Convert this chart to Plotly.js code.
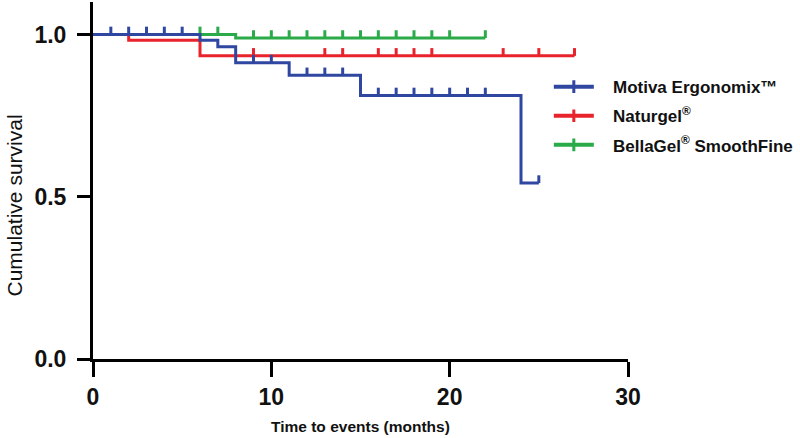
<!DOCTYPE html>
<html>
<head>
<meta charset="utf-8">
<script src="https://cdn.plot.ly/plotly-3.0.1.min.js"></script>
<style>
  html, body { margin: 0; padding: 0; background: #fff; }
  #chart { width: 800px; height: 438px; }
</style>
</head>
<body>
<div id="chart"></div>
<script>
// Kaplan-Meier steps (time in months, cumulative survival)
const motivaTime = [0, 6, 7, 8, 11, 15, 24, 25];
const motivaSurv = [1, 0.982, 0.962, 0.913, 0.874, 0.812, 0.542, 0.542];
const motivaCensor = [1, 2, 3, 4, 5, 9, 10, 12, 13, 14, 16, 17, 18, 19, 20, 21, 22, 25];

const naturgelTime = [0, 2, 6, 27];
const naturgelSurv = [1, 0.982, 0.934, 0.934];
const naturgelCensor = [9, 13, 14, 16, 17, 18, 19, 23, 25, 27];

const bellaTime = [0, 8, 22];
const bellaSurv = [1, 0.989, 0.989];
const bellaCensor = [6, 7, 9, 10, 11, 12, 13, 14, 15, 16, 17, 18, 19, 20, 22];

const seriesNames = ["Motiva Ergonomix™", "Naturgel<sup>®</sup>", "BellaGel<sup>®</sup> SmoothFine"];
const seriesColors = ["#2f47a1", "#e8232b", "#2aaa48"];

const xTicks = [0, 10, 20, 30];
const yTicks = [0, 0.5, 1.0];

const TICK_H = 0.024; // censor tick height in survival units
const PAD = '\u00a0\u00a0\u00a0'; // push legend text away from the sample line

// survival value at time t on a step curve
function survAt(times, surv, t) {
  let s = surv[0];
  for (let i = 0; i < times.length; i++) {
    if (times[i] <= t) s = surv[i];
  }
  return s;
}

// small vertical censor marks sitting on top of the curve
function censorTrace(times, surv, censor, color) {
  const x = [], y = [];
  censor.forEach(t => {
    const s = survAt(times, surv, t);
    x.push(t, t, null);
    y.push(s, s + TICK_H, null);
  });
  return {
    x: x, y: y, type: 'scatter', mode: 'lines',
    line: { color: color, width: 3 },
    showlegend: false, hoverinfo: 'skip'
  };
}

function stepTrace(times, surv, color) {
  return {
    x: times, y: surv, type: 'scatter', mode: 'lines',
    line: { color: color, width: 3, shape: 'hv' },
    showlegend: false
  };
}

// legend-only entries
const legendTraces = seriesNames.map((name, i) => ({
  x: [null], y: [null], type: 'scatter', mode: 'lines+markers',
  name: PAD + name, legendgroup: 'g' + i,
  line: { color: seriesColors[i], width: 4 },
  marker: { symbol: 'line-ns', size: 9, line: { color: seriesColors[i], width: 3 } }
}));

const traces = [
  ...legendTraces,
  stepTrace(bellaTime, bellaSurv, seriesColors[2]),
  censorTrace(bellaTime, bellaSurv, bellaCensor, seriesColors[2]),
  stepTrace(naturgelTime, naturgelSurv, seriesColors[1]),
  censorTrace(naturgelTime, naturgelSurv, naturgelCensor, seriesColors[1]),
  stepTrace(motivaTime, motivaSurv, seriesColors[0]),
  censorTrace(motivaTime, motivaSurv, motivaCensor, seriesColors[0])
];

const tickFont = { family: 'Liberation Sans, Arial, sans-serif', size: 23, color: '#111', weight: 'bold' };

const layout = {
  width: 800, height: 438,
  margin: { l: 93, r: 169, t: 2, b: 79 },
  paper_bgcolor: '#fff', plot_bgcolor: '#fff',
  showlegend: true,
  legend: {
    x: 0.852, y: 0.812, xanchor: 'left', yanchor: 'top',
    traceorder: 'grouped', tracegroupgap: 4,
    itemwidth: 40,
    font: { family: 'Liberation Sans, Arial, sans-serif', size: 17, color: '#111', weight: 'bold' },
    bgcolor: 'rgba(0,0,0,0)'
  },
  xaxis: {
    range: [0, 30], tickvals: xTicks, ticktext: xTicks.map(String),
    showgrid: false, zeroline: false,
    showline: true, linecolor: '#000', linewidth: 3,
    ticks: 'outside', ticklen: 15, tickwidth: 3, tickcolor: '#000',
    ticklabelstandoff: 0,
    tickfont: tickFont, fixedrange: true
  },
  yaxis: {
    range: [0, 1.1], tickvals: yTicks, ticktext: yTicks.map(v => v.toFixed(1)),
    showgrid: false, zeroline: false,
    showline: true, linecolor: '#000', linewidth: 3,
    ticks: 'outside', ticklen: 13, tickwidth: 3, tickcolor: '#000',
    ticklabelstandoff: 6,
    tickfont: tickFont, fixedrange: true
  },
  annotations: [
    {
      text: 'Cumulative survival', textangle: -90,
      xref: 'paper', yref: 'paper', x: 0, y: 0.43,
      xanchor: 'center', yanchor: 'middle', xshift: -79, showarrow: false,
      font: { family: 'Liberation Sans, Arial, sans-serif', size: 21, color: '#111' }
    },
    {
      text: 'Time to events (months)',
      xref: 'paper', yref: 'paper', x: 0.5, y: 0,
      xanchor: 'center', yanchor: 'middle', yshift: -67, showarrow: false,
      font: { family: 'Liberation Sans, Arial, sans-serif', size: 15.5, color: '#111', weight: 'bold' }
    }
  ]
};

Plotly.newPlot('chart', traces, layout, { displayModeBar: false, staticPlot: true });
</script>
</body>
</html>
